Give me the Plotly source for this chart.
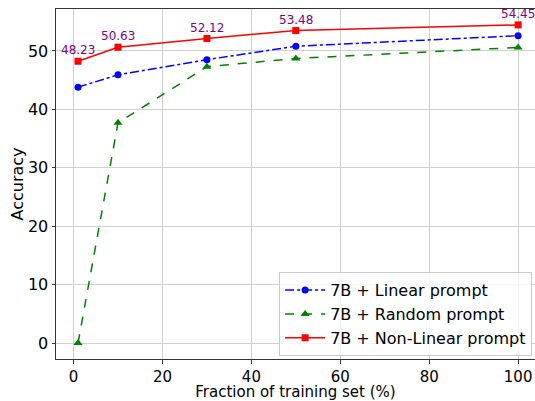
import plotly.graph_objects as go

fractions = [1, 10, 30, 50, 100]
linear_acc = [43.8, 45.9, 48.5, 50.8, 52.6]
random_acc = [0.0, 37.7, 47.3, 48.7, 50.6]
nonlinear_acc = [48.23, 50.63, 52.12, 53.48, 54.45]
x_ticks = [0, 20, 40, 60, 80, 100]
y_ticks = [0, 10, 20, 30, 40, 50]

FONT = "DejaVu Sans"

fig = go.Figure()
fig.add_trace(go.Scatter(x=fractions, y=linear_acc, mode="lines+markers",
                         name="7B + Linear prompt",
                         line=dict(color="#0000ff", width=1.5, dash="dashdot"),
                         marker=dict(symbol="circle", size=7, color="#0000ff")))
fig.add_trace(go.Scatter(x=fractions, y=random_acc, mode="lines+markers",
                         name="7B + Random prompt",
                         line=dict(color="#008000", width=1.5, dash="dash"),
                         marker=dict(symbol="triangle-up", size=8, color="#008000")))
fig.add_trace(go.Scatter(x=fractions, y=nonlinear_acc, mode="lines+markers",
                         name="7B + Non-Linear prompt",
                         line=dict(color="#ff0000", width=1.5),
                         marker=dict(symbol="square", size=7, color="#ff0000")))

for xv, yv in zip(fractions, nonlinear_acc):
    fig.add_annotation(x=xv, y=yv, text=f"{yv:.2f}", showarrow=False,
                       yanchor="bottom", yshift=2,
                       font=dict(family=FONT, size=12, color="#800080"))

fig.update_layout(
    width=535, height=401,
    margin=dict(l=56, r=0, t=9, b=42),
    paper_bgcolor="white", plot_bgcolor="white",
    font=dict(family=FONT, size=16, color="black"),
    showlegend=True,
    legend=dict(x=0.994, y=0.008, xanchor="right", yanchor="bottom",
                bgcolor="rgba(255,255,255,0.8)", bordercolor="#cccccc", borderwidth=1,
                font=dict(family=FONT, size=16), itemwidth=40,
                tracegroupgap=0),
)
fig.update_xaxes(range=[-3.95, 103.8], tickvals=x_ticks, showgrid=True,
                 gridcolor="#d0d0d0", gridwidth=1, zeroline=False, automargin=False,
                 showline=True, linecolor="#333333", linewidth=1, mirror=True,
                 ticks="outside", ticklen=3.5, tickcolor="#333333",
                 tickfont=dict(size=15),
                 title=dict(text="Fraction of training set (%)", font=dict(size=15), standoff=6))
fig.update_yaxes(range=[-2.72, 57.17], tickvals=y_ticks, showgrid=True,
                 gridcolor="#d0d0d0", gridwidth=1, zeroline=False, automargin=False,
                 showline=True, linecolor="#333333", linewidth=1, mirror=False,
                 ticks="outside", ticklen=3.5, tickcolor="#333333",
                 tickfont=dict(size=16),
                 title=dict(text="Accuracy", font=dict(size=16), standoff=0))

fig.write_html("out.html", config={"displayModeBar": False},
               post_script="document.body.style.margin='0';document.body.style.overflow='hidden';")
